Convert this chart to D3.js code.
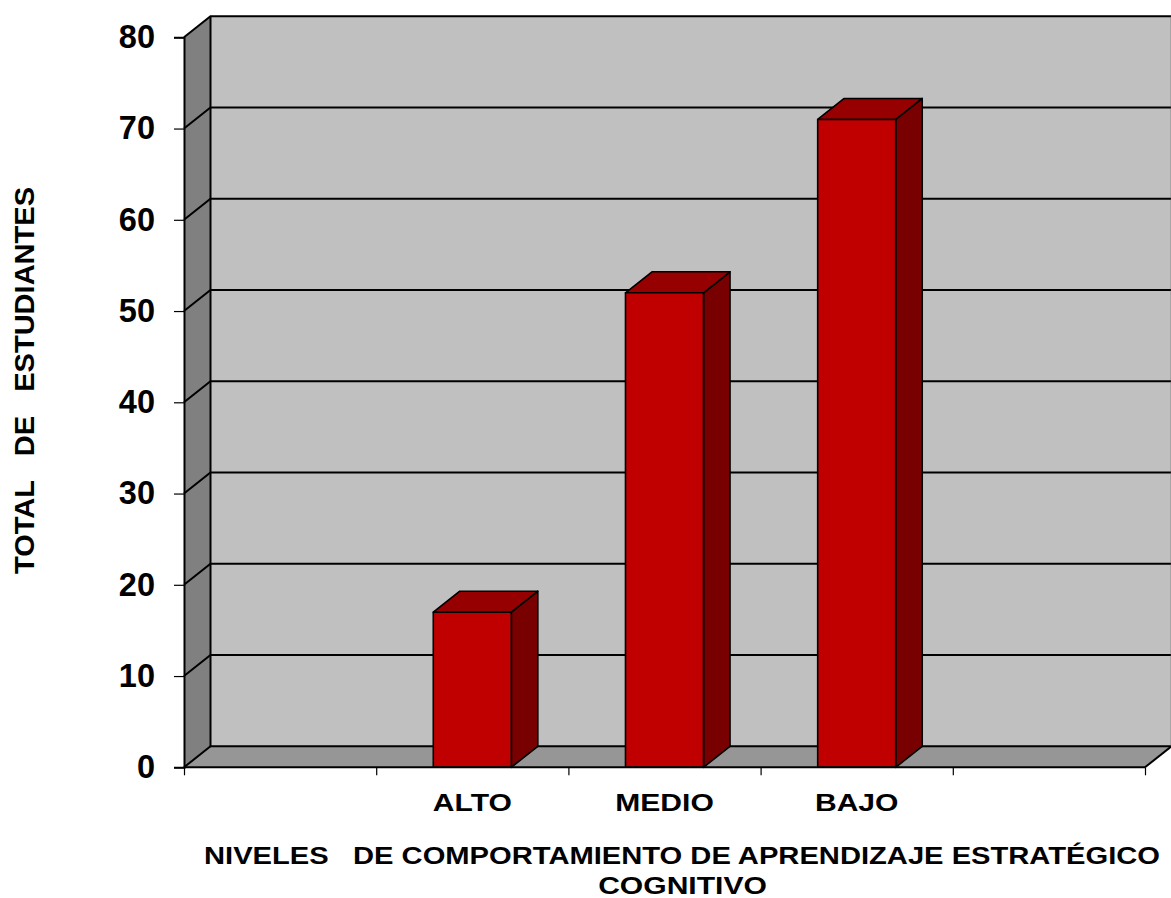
<!DOCTYPE html>
<html>
<head>
<meta charset="utf-8">
<script src="https://cdn.jsdelivr.net/npm/d3@7"></script>
<style>
html,body{margin:0;padding:0;background:#fff;}
svg{display:block;}
text{font-family:"Liberation Sans",Arial,sans-serif;font-weight:bold;fill:#000;white-space:pre;}
</style>
</head>
<body>
<svg id="chart" width="1171" height="898"></svg>
<script>
// ---- data ----
const categories = ["", "ALTO", "MEDIO", "BAJO", ""];
const values = [null, 17, 52, 71, null];
const yTicks = [0, 10, 20, 30, 40, 50, 60, 70, 80];
const yTitle = "TOTAL   DE   ESTUDIANTES";
const xTitle1 = "NIVELES   DE COMPORTAMIENTO DE APRENDIZAJE ESTRATÉGICO";
const xTitle2 = "COGNITIVO";

// ---- layout ----
const svg = d3.select("#chart");
const pLeft = 184, pRight = 1145, pBottom = 767.3, pTop = 37.3;
const DX = 26.5, DY = -21;
const SX = 1.28; // horizontal stretch of the label font

const x = d3.scaleBand().domain(d3.range(categories.length))
  .range([pLeft, pRight]).paddingInner(0.594).paddingOuter(0.297);
const y = d3.scaleLinear().domain([0, 80]).range([pBottom, pTop]);

const line = d3.line();
const poly = pts => line(pts) + "Z";

// back wall
svg.append("path")
  .attr("d", poly([[pLeft+DX, y(80)+DY],[pRight+DX, y(80)+DY],[pRight+DX, y(0)+DY],[pLeft+DX, y(0)+DY]]))
  .attr("fill", "#C0C0C0").attr("stroke", "none");
// left wall
svg.append("path")
  .attr("d", poly([[pLeft, y(80)],[pLeft+DX, y(80)+DY],[pLeft+DX, y(0)+DY],[pLeft, y(0)]]))
  .attr("fill", "#808080").attr("stroke", "none");
// floor
svg.append("path")
  .attr("d", poly([[pLeft, y(0)],[pLeft+DX, y(0)+DY],[pRight+DX, y(0)+DY],[pRight, y(0)]]))
  .attr("fill", "#969696").attr("stroke", "none");

// gridlines
const g = svg.append("g").attr("stroke", "#000").attr("stroke-width", 2).attr("fill", "none");
yTicks.forEach(t => {
  if (t > 0) {
    g.append("path").attr("d", line([[pLeft, y(t)],[pLeft+DX, y(t)+DY],[pRight+DX, y(t)+DY]]));
  }
});
// wall / floor outlines
g.append("path").attr("d", line([[pLeft+DX, y(80)+DY],[pLeft+DX, y(0)+DY],[pRight+DX, y(0)+DY]]));
g.append("path").attr("d", line([[pLeft, y(0)],[pLeft+DX, y(0)+DY]]));
g.append("path").attr("d", line([[pRight, y(0)],[pRight+DX, y(0)+DY]]));
g.append("path").attr("d", line([[pRight+DX, y(80)+DY],[pRight+DX, y(0)+DY]])).attr("stroke", "#555").attr("stroke-width", 1.5);

// bars
const bars = svg.append("g").attr("stroke", "#000").attr("stroke-width", 1.6).attr("stroke-linejoin", "round");
values.forEach((v, i) => {
  if (v == null) return;
  const x0 = x(i), x1 = x(i) + x.bandwidth(), yt = y(v), yb = y(0);
  bars.append("path").attr("d", poly([[x1, yt],[x1+DX, yt+DY],[x1+DX, yb+DY],[x1, yb]])).attr("fill", "#780000");
  bars.append("path").attr("d", poly([[x0, yt],[x0+DX, yt+DY],[x1+DX, yt+DY],[x1, yt]])).attr("fill", "#960000");
  bars.append("path").attr("d", poly([[x0, yt],[x1, yt],[x1, yb],[x0, yb]])).attr("fill", "#C00000");
});

// axes
const yAxis = svg.append("g").attr("transform", `translate(${pLeft},0)`)
  .call(d3.axisLeft(y).tickValues(yTicks).tickSize(10).tickPadding(19).tickFormat(d3.format("d")));
yAxis.select(".domain").attr("stroke", "#000").attr("stroke-width", 2);
yAxis.selectAll(".tick line").attr("stroke", "#000").attr("stroke-width", 1.2);
yAxis.selectAll(".tick text").attr("font-size", 32.5).attr("font-family", "Liberation Sans, Arial, sans-serif").attr("font-weight", "bold").attr("fill", "#000");

const xAxisScale = d3.scaleLinear().domain([0, categories.length]).range([pLeft, pRight]);
const xAxis = svg.append("g").attr("transform", `translate(0,${pBottom})`)
  .call(d3.axisBottom(xAxisScale).tickValues(d3.range(categories.length + 1)).tickSize(8).tickFormat(""));
xAxis.select(".domain").attr("stroke", "#000").attr("stroke-width", 2).attr("d", `M${pLeft},0H${pRight}`);
xAxis.selectAll(".tick line").attr("stroke", "#000").attr("stroke-width", 1.2);

// category labels
svg.append("g").selectAll("text").data(categories).join("text")
  .attr("transform", (d, i) => `translate(${x(i) + x.bandwidth() / 2},811) scale(${SX},1)`)
  .attr("text-anchor", "middle")
  .attr("font-size", 23.5)
  .text(d => d);

// axis titles
svg.append("text").attr("x", 682).attr("y", 864).attr("text-anchor", "middle").attr("font-size", 23.5)
  .attr("textLength", 956).attr("lengthAdjust", "spacingAndGlyphs").text(xTitle1);
svg.append("text").attr("transform", `translate(682.5,894) scale(${SX},1)`).attr("text-anchor", "middle").attr("font-size", 23.5).text(xTitle2);
svg.append("text").attr("transform", "translate(34,380.5) rotate(-90)").attr("text-anchor", "middle")
  .attr("font-size", 27.5).attr("textLength", 387).attr("lengthAdjust", "spacingAndGlyphs").text(yTitle);
</script>
</body>
</html>
